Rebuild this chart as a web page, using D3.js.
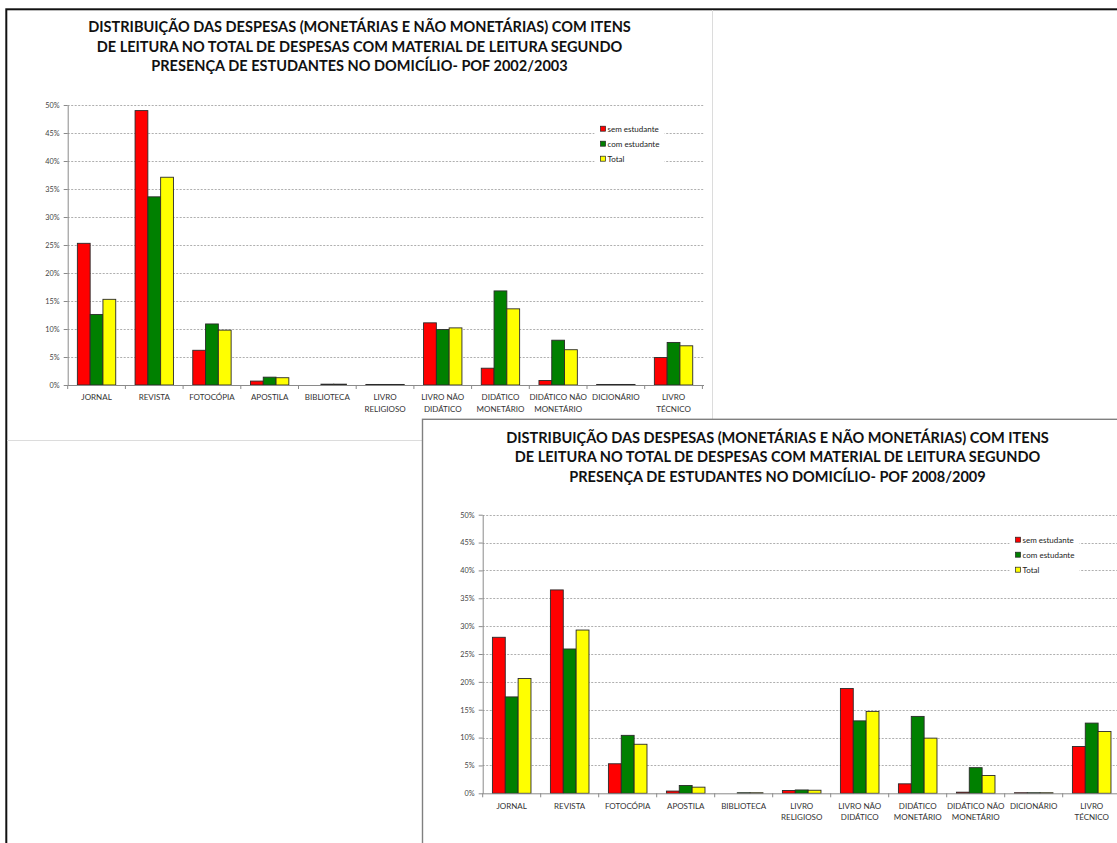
<!DOCTYPE html>
<html>
<head>
<meta charset="utf-8">
<script src="https://cdn.jsdelivr.net/npm/d3@7"></script>
<style>
  html, body { margin: 0; padding: 0; background: #fff; }
  svg { display: block; }
</style>
</head>
<body>
<svg id="chart" width="1117" height="843"></svg>
<script>
// Reading-material expense categories (line breaks mark two-line axis labels)
const categories = [
  "JORNAL", "REVISTA", "FOTOCÓPIA", "APOSTILA", "BIBLIOTECA",
  "LIVRO\nRELIGIOSO", "LIVRO NÃO\nDIDÁTICO", "DIDÁTICO\nMONETÁRIO",
  "DIDÁTICO NÃO\nMONETÁRIO", "DICIONÁRIO", "LIVRO\nTÉCNICO"
];
const seriesNames = ["sem estudante", "com estudante", "Total"];
const seriesColors = ["#ff0000", "#008000", "#ffff00"];
const yTicks = [0, 5, 10, 15, 20, 25, 30, 35, 40, 45, 50];

// POF 2002/2003 shares (%)
const sem2002 = [25.3, 49.0, 6.2, 0.7, 0.0, 0.1, 11.1, 3.0, 0.8, 0.1, 4.9];
const com2002 = [12.6, 33.6, 10.9, 1.4, 0.15, 0.1, 9.9, 16.8, 8.0, 0.1, 7.6];
const total2002 = [15.3, 37.1, 9.8, 1.3, 0.15, 0.1, 10.2, 13.6, 6.3, 0.1, 7.0];

// POF 2008/2009 shares (%)
const sem2008 = [28.0, 36.5, 5.3, 0.4, 0.0, 0.5, 18.8, 1.7, 0.2, 0.1, 8.4];
const com2008 = [17.3, 25.9, 10.4, 1.4, 0.1, 0.6, 13.0, 13.8, 4.6, 0.1, 12.6];
const total2008 = [20.6, 29.3, 8.8, 1.1, 0.1, 0.55, 14.7, 9.9, 3.2, 0.1, 11.1];

const title2002 = [
  "DISTRIBUIÇÃO DAS DESPESAS (MONETÁRIAS E NÃO MONETÁRIAS) COM ITENS",
  "DE LEITURA NO TOTAL DE DESPESAS COM MATERIAL DE LEITURA SEGUNDO",
  "PRESENÇA DE ESTUDANTES NO DOMICÍLIO-  POF 2002/2003"
];
const title2008 = [
  "DISTRIBUIÇÃO DAS DESPESAS (MONETÁRIAS E NÃO MONETÁRIAS) COM ITENS",
  "DE LEITURA NO TOTAL DE DESPESAS COM MATERIAL DE LEITURA SEGUNDO",
  "PRESENÇA DE ESTUDANTES NO DOMICÍLIO-  POF 2008/2009"
];

const svg = d3.select("#chart");
const FONT = "Lato, 'Open Sans', 'DejaVu Sans', sans-serif";

svg.append("rect").attr("width", 1117).attr("height", 843).attr("fill", "#fff");

function drawPanel(g, cfg) {
  const { series, title, L } = cfg;

  // title
  const tt = g.append("text")
    .attr("text-anchor", "middle")
    .attr("font-family", FONT)
    .attr("font-weight", 700)
    .attr("font-size", 13)
    .attr("fill", "#111");
  title.forEach((line, i) => {
    tt.append("tspan").attr("x", L.titleX).attr("y", L.titleY + i * 19.4).text(line);
  });
  const w0 = tt.select("tspan").node().getComputedTextLength();
  tt.attr("font-size", 13 * L.titleW / w0);

  const step = L.step;
  const x0 = d3.scaleBand()
    .domain(categories)
    .range([L.left, L.left + step * categories.length])
    .paddingInner(0.335)
    .paddingOuter(0.1675);
  const x1 = d3.scaleBand().domain(seriesNames).range([0, x0.bandwidth()]);
  const y = d3.scaleLinear().domain([0, 50]).range([L.bottom, L.top]);

  // grid lines
  g.append("g").selectAll("line")
    .data(yTicks.filter(d => d > 0))
    .join("line")
    .attr("x1", L.left).attr("x2", L.gridEnd)
    .attr("y1", d => Math.round(y(d)) + 0.5).attr("y2", d => Math.round(y(d)) + 0.5)
    .attr("stroke", "#9a9a9a")
    .attr("stroke-width", 0.8)
    .attr("stroke-dasharray", "2,1.5");

  // y axis
  const yAxis = g.append("g")
    .attr("transform", `translate(${L.left},0)`)
    .call(d3.axisLeft(y).tickValues(yTicks).tickFormat(d => d + "%").tickSize(4).tickSizeOuter(0));
  yAxis.select(".domain").attr("stroke", "#8a8a8a");
  yAxis.selectAll(".tick line").attr("stroke", "#8a8a8a");
  yAxis.selectAll(".tick text")
    .attr("font-family", FONT).attr("font-size", 7.3).attr("fill", "#444").attr("x", -8);

  // bars
  const rows = categories.map((c, i) => ({ c, vals: series.map(s => s[i]) }));
  const grp = g.append("g").selectAll("g")
    .data(rows).join("g")
    .attr("transform", d => `translate(${x0(d.c)},0)`);
  grp.selectAll("rect")
    .data(d => d.vals.map((v, k) => ({ v, k })))
    .join("rect")
    .attr("x", d => x1(seriesNames[d.k]))
    .attr("width", x1.bandwidth())
    .attr("y", d => y(d.v))
    .attr("height", d => Math.max(0, y(0) - y(d.v)))
    .attr("fill", d => seriesColors[d.k])
    .attr("stroke", d => d.v > 0 ? "#2a2a2a" : "none")
    .attr("stroke-width", 0.9);

  // x axis baseline and category boundary ticks
  const xb = g.append("g");
  xb.append("line")
    .attr("x1", L.left).attr("x2", L.gridEnd)
    .attr("y1", L.bottom + 0.5).attr("y2", L.bottom + 0.5)
    .attr("stroke", "#8a8a8a");
  xb.selectAll(".bt")
    .data(d3.range(categories.length + 1))
    .join("line")
    .attr("x1", i => L.left + i * step).attr("x2", i => L.left + i * step)
    .attr("y1", L.bottom).attr("y2", L.bottom + 4)
    .attr("stroke", "#8a8a8a");

  // category labels
  const lab = xb.selectAll(".lab")
    .data(categories)
    .join("text")
    .attr("text-anchor", "middle")
    .attr("font-family", FONT)
    .attr("font-size", 8)
    .attr("fill", "#333");
  lab.each(function (c) {
    const t = d3.select(this);
    c.split("\n").forEach((line, i) => {
      t.append("tspan")
        .attr("x", x0(c) + x0.bandwidth() / 2)
        .attr("y", L.bottom + L.labelDy + i * 11.5)
        .text(line);
    });
  });

  // legend
  const lg = g.append("g");
  lg.append("rect")
    .attr("x", L.legX - 6).attr("y", L.legY - 8)
    .attr("width", 70).attr("height", 45)
    .attr("fill", "#fff");
  seriesNames.forEach((s, k) => {
    const yy = L.legY + k * 15;
    lg.append("rect")
      .attr("x", L.legX).attr("y", yy - 2.5)
      .attr("width", 5).attr("height", 5)
      .attr("fill", seriesColors[k])
      .attr("stroke", "#222").attr("stroke-width", 0.7);
    lg.append("text")
      .attr("x", L.legX + 7).attr("y", yy + 3)
      .attr("font-family", FONT).attr("font-size", 8).attr("fill", "#222")
      .text(s);
  });
}

// outer frame of the composite
svg.append("rect")
  .attr("x", 6.3).attr("y", 9.3)
  .attr("width", 1200).attr("height", 900)
  .attr("fill", "none").attr("stroke", "#111").attr("stroke-width", 2);

// first panel edge
const p1 = svg.append("g");
p1.append("path")
  .attr("d", "M712.5,10 V440.5 H7")
  .attr("fill", "none").attr("stroke", "#dcdcdc").attr("stroke-width", 1);

drawPanel(p1, {
  series: [sem2002, com2002, total2002],
  title: title2002,
  L: { titleX: 359.5, titleY: 32.3, titleW: 543,
       left: 67.7, step: 57.7, gridEnd: 704, top: 105, bottom: 385,
       labelDy: 15, legX: 600.5, legY: 128.7 }
});

// second panel, drawn over the first
const p2 = svg.append("g");
p2.append("rect")
  .attr("x", 422.5).attr("y", 419.3)
  .attr("width", 800).attr("height", 500)
  .attr("fill", "#fff").attr("stroke", "#808080").attr("stroke-width", 1.4);

drawPanel(p2, {
  series: [sem2008, com2008, total2008],
  title: title2008,
  L: { titleX: 777.5, titleY: 443, titleW: 543,
       left: 482.7, step: 58, gridEnd: 1117, top: 514.7, bottom: 793.3,
       labelDy: 15.5, legX: 1015.5, legY: 539.7 }
});
</script>
</body>
</html>
